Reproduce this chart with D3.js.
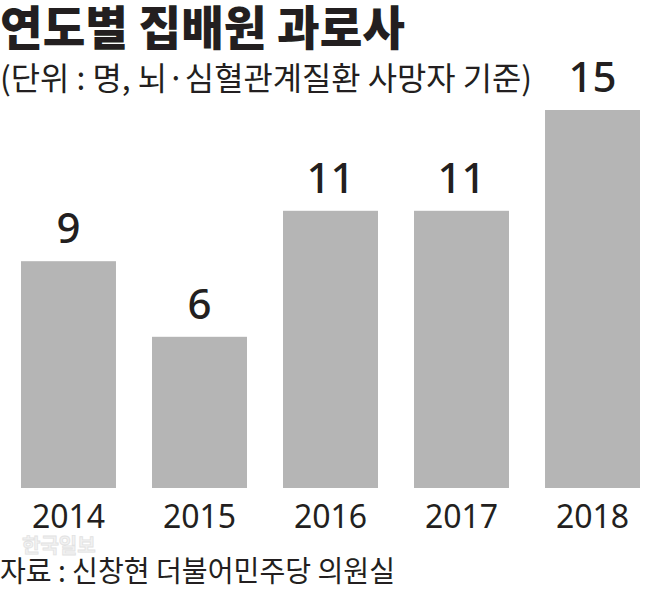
<!DOCTYPE html>
<html>
<head>
<meta charset="utf-8">
<script src="https://cdn.jsdelivr.net/npm/d3@7"></script>
<style>
  body { margin: 0; background: #fff; }
  text { font-family: "Noto Sans CJK KR", "Noto Sans", sans-serif; fill: #231f20; }
</style>
</head>
<body>
<div id="chart"></div>
<script>
const years = ['2014', '2015', '2016', '2017', '2018'];
const deaths = [9, 6, 11, 11, 15];

const width = 661, height = 591;

const svg = d3.select('#chart')
  .append('svg')
  .attr('width', width)
  .attr('height', height);

const x = d3.scaleBand()
  .domain(years)
  .range([21, 640])
  .paddingInner(0.275)
  .paddingOuter(0);

const y = d3.scaleLinear()
  .domain([0, 15])
  .range([488, 110]);

// title + unit
svg.append('text')
  .attr('x', 0).attr('y', 45)
  .attr('textLength', 405).attr('lengthAdjust', 'spacingAndGlyphs')
  .style('font-size', '47px').style('font-weight', 900)
  .text('연도별 집배원 과로사');

svg.append('text')
  .attr('x', 0).attr('y', 90)
  .attr('textLength', 532).attr('lengthAdjust', 'spacingAndGlyphs')
  .style('font-size', '32px').style('font-weight', 400)
  .text('(단위 : 명, 뇌·심혈관계질환 사망자 기준)');

// bars
svg.selectAll('.bar')
  .data(deaths)
  .join('rect')
    .attr('class', 'bar')
    .attr('x', (d, i) => x(years[i]))
    .attr('y', d => y(d))
    .attr('width', x.bandwidth())
    .attr('height', d => y(0) - y(d))
    .attr('fill', '#b5b5b5');

// value labels
svg.selectAll('.val')
  .data(deaths)
  .join('text')
    .attr('class', 'val')
    .attr('x', (d, i) => x(years[i]) + x.bandwidth() / 2)
    .attr('y', d => y(d) - 18)
    .attr('text-anchor', 'middle')
    .style('font-family', '"Noto Sans", sans-serif')
    .style('font-size', '42px')
    .style('font-weight', 500)
    .text(d => d);

// year labels
svg.selectAll('.yr')
  .data(years)
  .join('text')
    .attr('class', 'yr')
    .attr('x', d => x(d) + x.bandwidth() / 2)
    .attr('y', 528)
    .attr('text-anchor', 'middle')
    .style('font-family', '"Noto Sans", sans-serif')
    .style('font-size', '32px')
    .text(d => d);

// watermark
svg.append('text')
  .attr('x', 22).attr('y', 553)
  .style('font-size', '20px').style('font-weight', 700)
  .style('fill', '#f2f2f2').style('stroke', '#e2e2e2').style('stroke-width', 0.8)
  .text('한국일보');

// source
svg.append('text')
  .attr('x', 0).attr('y', 582)
  .attr('textLength', 395).attr('lengthAdjust', 'spacingAndGlyphs')
  .style('font-size', '29px')
  .text('자료 : 신창현 더불어민주당 의원실');
</script>
</body>
</html>
